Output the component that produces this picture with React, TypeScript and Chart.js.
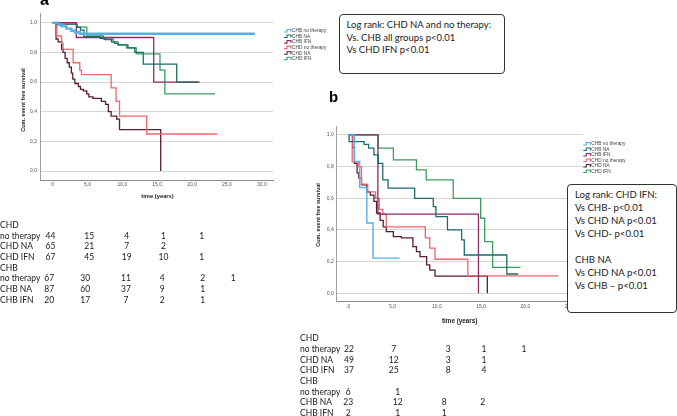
import React, { useEffect, useRef } from 'react';
import { Chart, registerables } from 'chart.js';

Chart.register(...registerables);

// ---------- DATA ----------
const seriesNames = ['CHB no therapy', 'CHB NA', 'CHB IFN', 'CHD no therapy', 'CHD NA', 'CHD IFN'];
const seriesColors = ['#5aaee3', '#1d6b68', '#8f2b66', '#f0656c', '#5a1d30', '#3b9c5e'];

// Panel a: [time (years), cumulative event free survival]
const aChbNoTherapy = [[0, 1], [0.8, 0.985], [1.3, 0.975], [2.0, 0.96], [2.7, 0.945], [3.2, 0.935], [3.9, 0.925], [29.0, 0.925]];
const aChbNA = [[0, 1], [0.5, 0.99], [3.5, 0.97], [4.0, 0.95], [4.5, 0.905], [6.8, 0.895], [7.5, 0.885], [8.45, 0.87], [8.9, 0.86], [9.4, 0.85], [10.8, 0.83], [11.8, 0.8], [13.0, 0.72], [17.8, 0.6], [20.9, 0.6]];
const aChbIFN = [[0, 1], [3.4, 0.9], [14.5, 0.6], [21.1, 0.6]];
const aChdNoTherapy = [[0, 1], [0.6, 0.91], [1.3, 0.86], [1.5, 0.82], [2.95, 0.73], [3.9, 0.68], [4.15, 0.65], [8.4, 0.56], [9.1, 0.47], [9.6, 0.37], [13.5, 0.25], [23.6, 0.25]];
const aChdNA = [[0, 1], [0.5, 0.89], [0.8, 0.87], [1.3, 0.82], [1.5, 0.8], [1.8, 0.76], [2.1, 0.73], [2.4, 0.7], [2.7, 0.66], [2.9, 0.62], [3.2, 0.59], [3.7, 0.57], [4.0, 0.55], [4.4, 0.54], [4.9, 0.52], [5.2, 0.5], [5.8, 0.49], [7.0, 0.47], [7.6, 0.45], [8.0, 0.4], [8.4, 0.37], [9.2, 0.35], [9.6, 0.28], [15.5, 0]];
const aChdIFN = [[0, 1], [2.0, 0.99], [3.5, 0.97], [4.9, 0.91], [7.3, 0.89], [8.7, 0.87], [9.4, 0.85], [10.6, 0.83], [12.0, 0.79], [15.4, 0.68], [16.1, 0.52], [23.3, 0.52]];

// Panel b
const bChbNoTherapy = [[0, 1], [0.7, 0.833], [1.3, 0.667], [2.1, 0.444], [2.8, 0.222], [5.8, 0.222]];
const bChbNA = [[0, 1], [0.1, 0.958], [1.8, 0.94], [2.3, 0.917], [2.9, 0.874], [3.4, 0.82], [3.9, 0.716], [4.5, 0.664], [7.5, 0.6], [9.6, 0.547], [9.9, 0.484], [11.2, 0.4], [12.8, 0.337], [13.1, 0.242], [17.9, 0.122], [19.2, 0.122]];
const bChbIFN = [[0, 1], [3.35, 0.5], [14.7, 0]];
const bChdNoTherapy = [[0, 1], [0.45, 0.83], [1.2, 0.8], [1.5, 0.69], [2.2, 0.64], [3.1, 0.6], [3.5, 0.53], [3.9, 0.5], [4.3, 0.42], [8.7, 0.35], [9.2, 0.285], [9.8, 0.215], [13.5, 0.11], [23.7, 0.11]];
const bChdNA = [[0, 1], [0.5, 0.92], [0.7, 0.82], [1.0, 0.76], [1.2, 0.727], [1.5, 0.685], [2.1, 0.64], [2.5, 0.62], [2.9, 0.58], [3.2, 0.507], [3.6, 0.46], [3.95, 0.42], [4.3, 0.39], [5.1, 0.358], [6.0, 0.35], [7.3, 0.295], [7.7, 0.263], [8.1, 0.231], [8.85, 0.179], [9.2, 0.147], [9.8, 0.109], [15.7, 0]];
const bChdIFN = [[0, 1], [3.4, 0.917], [5.1, 0.843], [7.7, 0.78], [8.8, 0.716], [11.85, 0.6], [14.95, 0.474], [15.4, 0.326], [16.3, 0.164], [19.45, 0.164]];

const yTickValues = [0, 0.2, 0.4, 0.6, 0.8, 1.0];
const yTickLabels = ['0,0', '0,2', '0,4', '0,6', '0,8', '1,0'];
const xTickValuesA = [0, 5, 10, 15, 20, 25, 30];
const xTickLabelsA = ['0', '5,0', '10,0', '15,0', '20,0', '25,0', '30,0'];
const xTickValuesB = [0, 5, 10, 15, 20, 25];
const xTickLabelsB = [',0', '5,0', '10,0', '15,0', '20,0', '25,0'];

const yAxisTitle = 'Cum. event free survival';
const xAxisTitle = 'time (years)';

const tableRowLabels = ['CHD', 'no therapy', 'CHD NA', 'CHD IFN', 'CHB', 'no therapy', 'CHB NA', 'CHB IFN'];
const atRiskA = [[], [44, 15, 4, 1, 1], [65, 21, 7, 2], [67, 45, 19, 10, 1], [], [67, 30, 11, 4, 2, 1], [87, 60, 37, 9, 1], [20, 17, 7, 2, 1]];
const atRiskB = [[], [22, 7, 3, 1, 1], [49, 12, 3, 1], [37, 25, 8, 4], [], [6, 1], [23, 12, 8, 2], [2, 1, 1]];

const boxAText = ['Log rank: CHD NA and no therapy:', 'Vs. CHB all groups p<0.01', 'Vs CHD IFN p<0.01'];
const boxBText = ['Log rank: CHD IFN:', 'Vs CHB- p<0.01', 'Vs CHD NA p<0.01', 'Vs CHD- p<0.01', '', 'CHB NA', 'Vs CHD NA p<0.01', 'Vs CHB \u2013 p<0.01'];

// ---------- CHART ----------
const FONT = '"Liberation Sans", Arial, sans-serif';
const BOX_FONT = 'Lato, "Open Sans", sans-serif';

const stepLegend = {
  id: 'stepLegend',
  afterDraw(chart: any, _args: any, opts: any) {
    const ctx = chart.ctx;
    ctx.save();
    ctx.font = `${opts.fontSize}px ${FONT}`;
    ctx.textBaseline = 'middle';
    ctx.textAlign = 'left';
    chart.data.datasets.forEach((ds: any, i: number) => {
      const y = opts.y + i * opts.spacing;
      const x = opts.x;
      ctx.strokeStyle = ds.borderColor;
      ctx.lineWidth = 1.1;
      ctx.beginPath();
      ctx.moveTo(x, y + 1);
      ctx.lineTo(x + 3, y + 1);
      ctx.lineTo(x + 3, y - 1.5);
      ctx.lineTo(x + 7, y - 1.5);
      ctx.lineTo(x + 7, y + 1);
      ctx.stroke();
      ctx.fillStyle = '#444';
      ctx.fillText(ds.label, x + 8, y);
    });
    ctx.restore();
  },
};

function makeDatasets(series: number[][][], widths: number[]) {
  return series.map((s, i) => ({
    label: seriesNames[i],
    data: s.map(([x, y]) => ({ x, y })),
    borderColor: seriesColors[i],
    backgroundColor: seriesColors[i],
    borderWidth: widths[i],
    stepped: 'before' as const,
    pointRadius: 0,
    fill: false,
  }));
}

function makeConfig(p: any) {
  return {
    type: 'line' as const,
    data: { datasets: p.datasets },
    plugins: [stepLegend],
    options: {
      animation: false as const,
      responsive: false,
      devicePixelRatio: 1,
      layout: { padding: p.padding },
      plugins: {
        legend: { display: false },
        tooltip: { enabled: false },
        stepLegend: p.legend,
      },
      scales: {
        x: {
          type: 'linear' as const,
          min: p.xmin,
          max: p.xmax,
          afterFit: (s: any) => { s.height = p.xHeight; },
          afterBuildTicks: (s: any) => { s.ticks = p.xTicks.map((v: number) => ({ value: v })); },
          grid: { display: false, drawTicks: false },
          border: { display: true, color: '#8a8a8a', width: 1 },
          ticks: {
            font: { size: p.tickSize, family: FONT },
            color: '#555',
            padding: 2,
            maxRotation: 0,
            autoSkip: false,
            callback: (v: number) => {
              const i = p.xTicks.indexOf(v);
              return i >= 0 ? p.xLabels[i] : '';
            },
          },
        },
        y: {
          type: 'linear' as const,
          min: p.ymin,
          max: p.ymax,
          afterFit: (s: any) => { s.width = p.yWidth; },
          afterBuildTicks: (s: any) => { s.ticks = yTickValues.map((v) => ({ value: v })); },
          grid: { display: true, drawTicks: false, color: '#d6d6d6', lineWidth: 1 },
          border: { display: true, color: '#a0a0a0', width: 1 },
          ticks: {
            font: { size: p.tickSize, family: FONT },
            color: '#555',
            padding: 3,
            autoSkip: false,
            callback: (v: number) => {
              const i = yTickValues.findIndex((t) => Math.abs(t - v) < 1e-6);
              return i >= 0 ? yTickLabels[i] : '';
            },
          },
        },
      },
    },
  };
}

function KMChart(props: { left: number; top: number; width: number; height: number; config: any }) {
  const ref = useRef<HTMLCanvasElement>(null);
  useEffect(() => {
    const chart = new Chart(ref.current as HTMLCanvasElement, props.config);
    return () => chart.destroy();
  }, []);
  return (
    <canvas
      ref={ref}
      width={props.width}
      height={props.height}
      style={{ position: 'absolute', left: props.left, top: props.top, width: props.width, height: props.height }}
    />
  );
}

function Txt(props: { x: number; y: number; size: number; children: any; bold?: boolean; center?: boolean; family?: string; color?: string }) {
  return (
    <div
      style={{
        position: 'absolute',
        left: props.x,
        top: props.y - props.size * 0.6,
        height: props.size * 1.2,
        lineHeight: `${props.size * 1.2}px`,
        fontSize: props.size,
        fontWeight: props.bold ? 700 : 400,
        fontFamily: props.family || BOX_FONT,
        color: props.color || '#1a1a1a',
        whiteSpace: 'pre',
        transform: props.center ? 'translateX(-50%)' : undefined,
      }}
    >
      {props.children}
    </div>
  );
}

function AtRiskTable(props: { x: number; y0: number; dy: number; values: number[][]; colsTop: number[]; colsBottom: number[] }) {
  const out: any[] = [];
  const size = 8.5;
  tableRowLabels.forEach((lab, r) => {
    const y = props.y0 + r * props.dy;
    out.push(<Txt key={'l' + r} x={props.x} y={y} size={size}>{lab}</Txt>);
    const cols = r < 4 ? props.colsTop : props.colsBottom;
    props.values[r].forEach((v, c) => {
      out.push(<Txt key={'v' + r + '_' + c} x={cols[c]} y={y} size={size} center>{String(v)}</Txt>);
    });
  });
  return <>{out}</>;
}

export default function App() {
  useEffect(() => {
    document.body.style.margin = '0';
    document.body.style.background = '#fff';
  }, []);

  const configA = makeConfig({
    datasets: makeDatasets([aChbNoTherapy, aChbNA, aChbIFN, aChdNoTherapy, aChdNA, aChdIFN], [2.4, 1.3, 1.3, 1.3, 1.3, 1.3]),
    xmin: -1.8, xmax: 31.6, ymin: -0.06, ymax: 1.065,
    padding: { left: 0, top: 13, right: 72, bottom: 0 },
    yWidth: 40, xHeight: 20, tickSize: 5,
    xTicks: xTickValuesA, xLabels: xTickLabelsA,
    legend: { x: 284, y: 31, spacing: 5.55, fontSize: 4.8 },
  });

  const configB = makeConfig({
    datasets: makeDatasets([bChbNoTherapy, bChbNA, bChbIFN, bChdNoTherapy, bChdNA, bChdIFN], [1.4, 1.3, 1.3, 1.3, 1.3, 1.3]),
    xmin: -1.3, xmax: 26.5, ymin: -0.053, ymax: 1.052,
    padding: { left: 0, top: 11.7, right: 67, bottom: 0 },
    yWidth: 46.7, xHeight: 8.3, tickSize: 5,
    xTicks: xTickValuesB, xLabels: xTickLabelsB,
    legend: { x: 293.3, y: 29, spacing: 5.5, fontSize: 4.8 },
  });

  return (
    <div style={{ position: 'relative', width: 677, height: 416, overflow: 'hidden', background: '#fff' }}>
      <KMChart left={0} top={0} width={345} height={200} config={configA} />
      <KMChart left={290} top={115} width={360} height={195} config={configB} />

      {/* panel labels */}
      <div style={{ position: 'absolute', left: 40, top: -9, fontSize: 16, fontWeight: 700, fontFamily: FONT, lineHeight: '18px' }}>a</div>
      <div style={{ position: 'absolute', left: 329, top: 88, fontSize: 15, fontWeight: 700, fontFamily: FONT, lineHeight: '17px' }}>b</div>

      {/* axis titles a */}
      <div style={{ position: 'absolute', left: 23, top: 100, transform: 'translate(-50%, -50%) rotate(-90deg)', fontSize: 5.5, fontWeight: 700, fontFamily: FONT, whiteSpace: 'nowrap', color: '#222' }}>{yAxisTitle}</div>
      <div style={{ position: 'absolute', left: 157.5, top: 196, transform: 'translate(-50%, -50%)', fontSize: 5.8, fontWeight: 700, fontFamily: FONT, whiteSpace: 'nowrap', color: '#222' }}>{xAxisTitle}</div>

      {/* axis titles b */}
      <div style={{ position: 'absolute', left: 318.3, top: 215, transform: 'translate(-50%, -50%) rotate(-90deg)', fontSize: 5.5, fontWeight: 700, fontFamily: FONT, whiteSpace: 'nowrap', color: '#222' }}>{yAxisTitle}</div>
      <div style={{ position: 'absolute', left: 459.7, top: 320, transform: 'translate(-50%, -50%)', fontSize: 6.3, fontWeight: 700, fontFamily: FONT, whiteSpace: 'nowrap', color: '#222' }}>{xAxisTitle}</div>

      {/* box a */}
      <div style={{ position: 'absolute', left: 339.3, top: 14, width: 165.7, height: 60, boxSizing: 'border-box', border: '1px solid #333', borderRadius: 4, background: '#fff' }} />
      {boxAText.map((t, i) => (
        <Txt key={'ba' + i} x={346.5} y={25 + i * 12.5} size={9.5}>{t}</Txt>
      ))}

      {/* box b */}
      <div style={{ position: 'absolute', left: 567.3, top: 184, width: 109.5, height: 128.5, boxSizing: 'border-box', border: '1px solid #333', borderRadius: 4, background: '#fff' }} />
      {boxBText.map((t, i) => (
        <Txt key={'bb' + i} x={575} y={195 + i * 12.9} size={9.6}>{t}</Txt>
      ))}

      {/* at-risk tables */}
      <AtRiskTable x={0} y0={225} dy={10.7} values={atRiskA}
        colsTop={[50.5, 89.3, 126.7, 163.5, 201.7, 233.3]}
        colsBottom={[49.3, 85.3, 126, 162.2, 202.7, 233.3]} />
      <AtRiskTable x={300} y0={338.3} dy={10.7} values={atRiskB}
        colsTop={[349, 393.8, 448.3, 484, 524]}
        colsBottom={[348.3, 397.8, 444.2, 482.7]} />
    </div>
  );
}
